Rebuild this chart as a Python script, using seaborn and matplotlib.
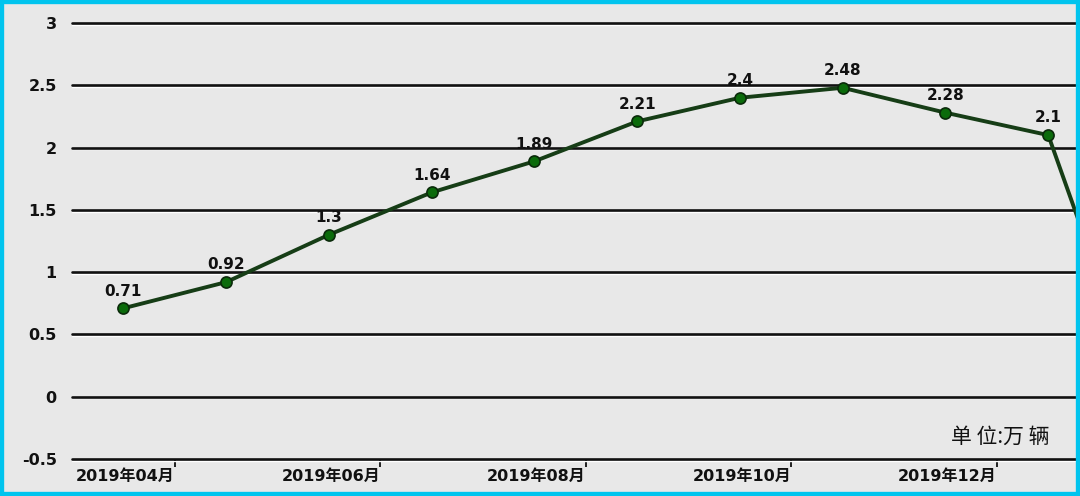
import matplotlib
matplotlib.use("Agg")
import matplotlib.pyplot as plt
import matplotlib.patches as mpatches
import pandas as pd
import seaborn as sns

# monthly values, 2019-04 .. 2020-02 (last point runs off the right edge)
months = ["2019年04月", "2019年05月", "2019年06月", "2019年07月", "2019年08月",
          "2019年09月", "2019年10月", "2019年11月", "2019年12月", "2020年01月",
          "2020年02月"]
values = [0.71, 0.92, 1.3, 1.64, 1.89, 2.21, 2.4, 2.48, 2.28, 2.1, -0.22]
tick_labels = ["2019年04月", "2019年06月", "2019年08月", "2019年10月", "2019年12月"]
y_ticks = [-0.5, 0, 0.5, 1, 1.5, 2, 2.5, 3]
y_tick_labels = ["-0.5", "0", "0.5", "1", "1.5", "2", "2.5", "3"]

df = pd.DataFrame({"idx": range(len(values)), "month": months, "value": values})

sns.set_style("white")
plt.rcParams["font.family"] = ["DejaVu Sans", "Noto Sans CJK SC"]

W, H = 1080, 496
fig = plt.figure(figsize=(W / 100, H / 100), dpi=100, facecolor="#e8e8e8")
# axes box in pixels: left 72, right 1076, top 23 (y=3), bottom 459 (y=-0.5)
ax = fig.add_axes([72 / W, 1 - 459 / H, (1076 - 72) / W, (459 - 23) / H])
ax.set_facecolor("#e8e8e8")

for y in y_ticks:
    ax.axhline(y, color="#111111", lw=1.9, zorder=1, clip_on=False)
    ax.axhline(y - 0.014, color="white", lw=1.0, zorder=0.9, clip_on=False)

sns.lineplot(data=df, x="idx", y="value", ax=ax, color="#163d16", lw=2.8,
             marker="o", markersize=8, markerfacecolor="#0b6b0b",
             markeredgecolor="#0a2a0a", markeredgewidth=1.2, zorder=3)

for i, v in enumerate(values[:-1]):
    ax.annotate(f"{v:g}", (i, v), xytext=(0, 7), textcoords="offset points",
                ha="center", va="bottom", fontsize=11, fontweight="bold",
                color="#111111", zorder=4)

ax.set_xlim(-0.5, 9.27)
ax.set_ylim(-0.5, 3)
ax.set_yticks(y_ticks)
ax.set_yticklabels(y_tick_labels, fontsize=11.5, fontweight="bold", color="#111111")
ax.set_xticks([0.5, 2.5, 4.5, 6.5, 8.5])
ax.set_xticklabels(tick_labels, fontsize=11.5, fontweight="bold", color="#111111",
                   ha="right", family=["DejaVu Sans", "Noto Sans CJK SC"])
ax.tick_params(axis="y", length=0, pad=11)
ax.tick_params(axis="x", bottom=True, length=6, width=1.3, color="#111111",
               direction="out", pad=1)
ax.set_xlabel("")
ax.set_ylabel("")
for s in ax.spines.values():
    s.set_visible(False)

ax.text(0.974, 0.05, "单 位:万 辆", transform=ax.transAxes, ha="right", va="center",
        fontsize=15, color="#111111", family=["Noto Sans CJK SC", "DejaVu Sans"])

border = mpatches.Rectangle((0, 0), 1, 1, transform=fig.transFigure, fill=False,
                            edgecolor="#00c4ee", lw=6, zorder=10)
fig.patches.append(border)

fig.savefig("out.png", dpi=100, facecolor=fig.get_facecolor())
